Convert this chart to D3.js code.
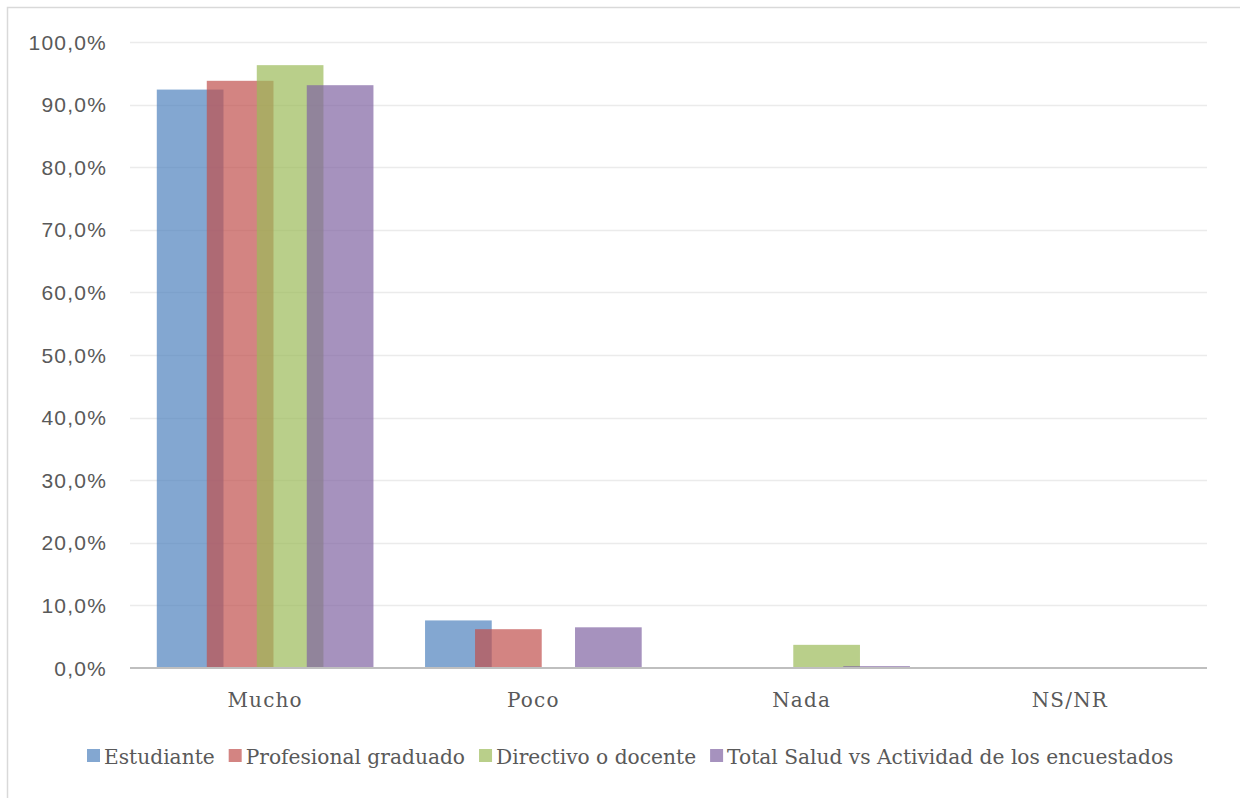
<!DOCTYPE html>
<html>
<head>
<meta charset="utf-8">
<script src="https://cdn.jsdelivr.net/npm/d3@7"></script>
<style>
  html, body { margin: 0; padding: 0; background: #fff; }
  svg { display: block; }
</style>
</head>
<body>
<svg id="chart" width="1240" height="798"></svg>
<script>
const categories = ["Mucho", "Poco", "Nada", "NS/NR"];
const seriesNames = ["Estudiante", "Profesional graduado", "Directivo o docente", "Total Salud vs Actividad de los encuestados"];
const estudiante = [0.924, 0.076, 0.000, 0.000];
const profesional = [0.938, 0.062, 0.000, 0.000];
const directivo = [0.963, 0.000, 0.037, 0.000];
const total = [0.931, 0.065, 0.003, 0.000];
const yTicks = [0, 0.1, 0.2, 0.3, 0.4, 0.5, 0.6, 0.7, 0.8, 0.9, 1.0];
const colors = ["#4F81BD", "#C0504D", "#9BBB59", "#8064A2"];

const seriesValues = [estudiante, profesional, directivo, total];

const svg = d3.select("#chart");

// outer frame
svg.append("rect")
  .attr("x", 7.5).attr("y", 7.5)
  .attr("width", 1400).attr("height", 1000)
  .attr("fill", "none").attr("stroke", "#d9d9d9").attr("stroke-width", 1.5);

const plotLeft = 131, plotRight = 1204, plotTop = 42, plotBottom = 668;

const x = d3.scaleBand().domain(categories).range([plotLeft, plotRight]).paddingInner(0).paddingOuter(0);
const y = d3.scaleLinear().domain([0, 1]).range([plotBottom, plotTop]);

const bw = x.bandwidth();
const step = bw * 50 / 268.3;
const barW = bw * 66.7 / 268.3;
const groupW = step * 3 + barW;
const xs = d3.scalePoint().domain(d3.range(seriesNames.length))
  .range([(bw - groupW) / 2, (bw - groupW) / 2 + step * 3]);

const locale = d3.formatLocale({decimal: ",", thousands: ".", grouping: [3], currency: ["", "€"]});
const fmt = locale.format(".1%");

// gridlines
svg.append("g").selectAll("line")
  .data(yTicks.filter(d => d > 0))
  .join("line")
  .attr("x1", plotLeft - 1).attr("x2", plotRight + 3)
  .attr("y1", d => Math.round(y(d)) + 0.5).attr("y2", d => Math.round(y(d)) + 0.5)
  .attr("stroke", "#ebebeb").attr("stroke-width", 1.5);

// y tick labels
svg.append("g").selectAll("text")
  .data(yTicks)
  .join("text")
  .attr("x", 107).attr("y", d => y(d))
  .attr("dy", "0.36em")
  .attr("text-anchor", "end")
  .attr("font-family", "'Liberation Sans', Arial, sans-serif")
  .attr("font-size", 21)
  .attr("letter-spacing", "1.2px")
  .attr("fill", "#595959")
  .text(d => fmt(d));

// bars
seriesValues.forEach((vals, si) => {
  svg.append("g").selectAll("rect")
    .data(vals.map((v, ci) => ({cat: categories[ci], v})))
    .join("rect")
    .attr("x", d => x(d.cat) + xs(si))
    .attr("width", barW)
    .attr("y", d => y(d.v))
    .attr("height", d => y(0) - y(d.v))
    .attr("fill", colors[si])
    .attr("fill-opacity", 0.7);
});

// x axis line
svg.append("line")
  .attr("x1", plotLeft - 1).attr("x2", plotRight + 3)
  .attr("y1", plotBottom).attr("y2", plotBottom)
  .attr("stroke", "#bfbfbf").attr("stroke-width", 2.2);

// category labels
svg.append("g").selectAll("text")
  .data(categories)
  .join("text")
  .attr("x", d => x(d) + bw / 2)
  .attr("y", 707)
  .attr("text-anchor", "middle")
  .attr("font-family", "'DejaVu Serif', serif")
  .attr("font-size", 20)
  .attr("letter-spacing", "1.2px")
  .attr("fill", "#595959")
  .text(d => d);

// legend
const legend = svg.append("g");
let cx = 87;
seriesNames.forEach((name, i) => {
  legend.append("rect")
    .attr("x", cx).attr("y", 749)
    .attr("width", 13).attr("height", 13)
    .attr("fill", colors[i]).attr("fill-opacity", 0.7);
  const t = legend.append("text")
    .attr("x", cx + 17).attr("y", 764)
    .attr("font-family", "'DejaVu Serif', serif")
    .attr("font-size", 20.2)
    .attr("fill", "#595959")
    .text(name);
  const w = t.node().getComputedTextLength();
  cx += 17 + w + 14;
});
</script>
</body>
</html>
